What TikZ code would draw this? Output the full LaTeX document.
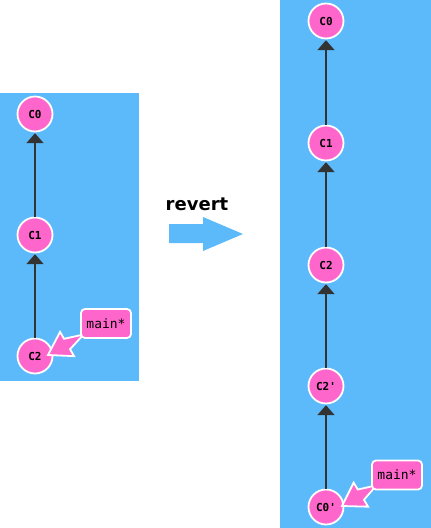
\documentclass[tikz,border=0pt]{standalone}
\usepackage{fontspec}
\setmainfont{DejaVu Sans}
\newfontfamily\monofont{DejaVu Sans Mono}
\usetikzlibrary{arrows.meta,calc}
\definecolor{bgblue}{HTML}{5CB9FA}
\definecolor{commitpink}{HTML}{FF66CC}
\definecolor{edgegray}{HTML}{333333}
\tikzset{
  panel/.style={fill=bgblue,draw=none},
  commit/.style={circle,fill=commitpink,draw=white,line width=1.8pt,minimum size=35pt,inner sep=0pt,font=\monofont\bfseries\fontsize{11}{11}\selectfont},
  branchlbl/.style={rectangle,rounded corners=4pt,fill=commitpink,draw=white,line width=1.8pt,minimum width=50pt,minimum height=29pt,inner sep=0pt,font=\monofont\fontsize{13}{13}\selectfont},
  parent/.style={draw=edgegray,line width=2pt,-{Triangle[width=17pt,length=10pt]},shorten >=0.8pt},
  fatarrow/.style={fill=commitpink,draw=white,line width=1.8pt,line join=miter},
  bigarrow/.style={fill=bgblue,draw=none}
}
\begin{document}
\begin{tikzpicture}[x=1pt,y=-1pt]
\useasboundingbox (0,0) rectangle (431,528);
% panels
\fill[panel] (0,93) rectangle (139,381);
\fill[panel] (280,0) rectangle (431,528);
% left graph
\node[commit] (L0) at (35,114) {C0};
\node[commit] (L1) at (35,235) {C1};
\node[commit] (L2) at (35,356) {C2};
\draw[parent] (L1) -- (L0);
\draw[parent] (L2) -- (L1);
% left branch arrow
\coordinate (LT) at (48,355);
\coordinate (LS) at (100,325);
\coordinate (LH) at ($(LT)!22pt!(LS)$);
\draw[fatarrow] (LT) -- ($(LH)!14pt!90:(LT)$) -- ($(LH)!6pt!90:(LT)$) -- ($(LS)!6pt!-90:(LT)$) -- ($(LS)!6pt!90:(LT)$) -- ($(LH)!6pt!-90:(LT)$) -- ($(LH)!14pt!-90:(LT)$) -- cycle;
\node[branchlbl] (Lmain) at (106,323.5) {main*};
% middle
\node[font=\bfseries\fontsize{18}{18}\selectfont,anchor=base] (rev) at (197,210) {revert};
\fill[bigarrow] (169,224) -- (203,224) -- (203,217) -- (243,234) -- (203,251) -- (203,243) -- (169,243) -- cycle;
% right graph
\node[commit] (R0) at (326,21) {C0};
\node[commit] (R1) at (326,143) {C1};
\node[commit] (R2) at (326,265) {C2};
\node[commit] (R3) at (326,386) {C2'};
\node[commit] (R4) at (326,507) {C0'};
\draw[parent] (R1) -- (R0);
\draw[parent] (R2) -- (R1);
\draw[parent] (R3) -- (R2);
\draw[parent] (R4) -- (R3);
% right branch arrow
\coordinate (RT) at (342,506);
\coordinate (RS) at (392,476);
\coordinate (RH) at ($(RT)!22pt!(RS)$);
\draw[fatarrow] (RT) -- ($(RH)!14pt!90:(RT)$) -- ($(RH)!6pt!90:(RT)$) -- ($(RS)!6pt!-90:(RT)$) -- ($(RS)!6pt!90:(RT)$) -- ($(RH)!6pt!-90:(RT)$) -- ($(RH)!14pt!-90:(RT)$) -- cycle;
\node[branchlbl] (Rmain) at (397,475) {main*};
\end{tikzpicture}
\end{document}
